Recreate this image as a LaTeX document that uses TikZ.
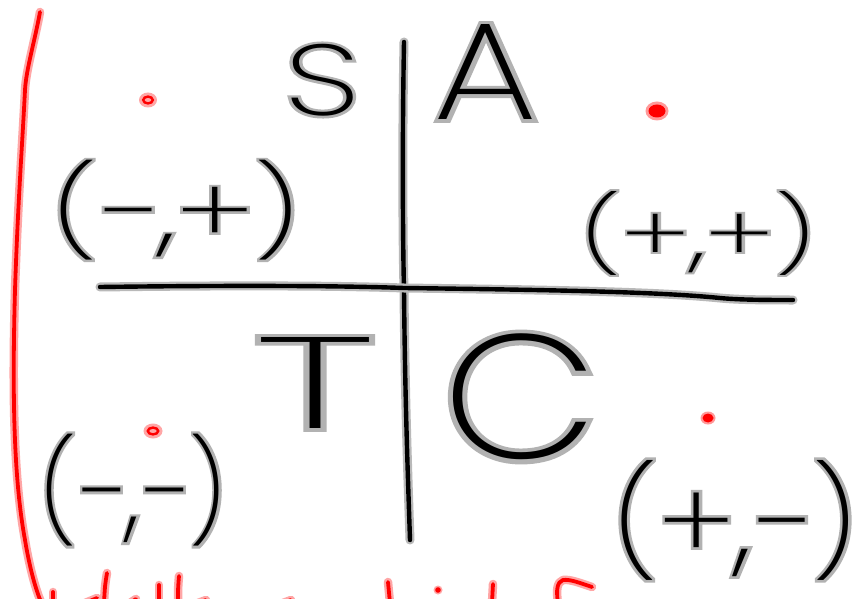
\documentclass[tikz,border=0pt]{standalone}
\usepackage{fontspec}
\usepackage{graphicx}
\IfFontExistsTF{Poppins ExtraLight}{%
  \newfontfamily\handfont{Poppins ExtraLight}%
  \newfontfamily\handhalofont[FakeBold=5]{Poppins ExtraLight}%
}{%
  \IfFontExistsTF{Fira Sans Light}{%
    \newfontfamily\handfont{Fira Sans Light}%
    \newfontfamily\handhalofont[FakeBold=5]{Fira Sans Light}%
  }{%
    \newfontfamily\handfont{Fira Sans}%
    \newfontfamily\handhalofont[FakeBold=5]{Fira Sans}%
  }%
}
\tikzset{
  ink/.style={draw=black, line width=4.4pt, line cap=round, line join=round,
    preaction={draw=gray!55, line width=9pt, line cap=round, line join=round}},
  redink/.style={draw=red, line width=3.8pt, line cap=round, line join=round,
    preaction={draw=red!35, line width=8.5pt, line cap=round, line join=round}},
  halolabel/.style={inner sep=0pt, text=gray!60},
  inklabel/.style={inner sep=0pt, text=black},
}
% #1 name, #2 centre, #3 width, #4 total height, #5 text
\newcommand\handlabel[5]{%
  \node[halolabel] at #2 {\resizebox*{#3}{#4}{\handhalofont\fontsize{100pt}{100pt}\selectfont #5}};
  \node[inklabel] (#1) at #2 {\resizebox*{#3}{#4}{\handfont\fontsize{100pt}{100pt}\selectfont #5}};
}
\begin{document}
\begin{tikzpicture}[x=1pt, y=-1pt]
\clip (0,0) rectangle (863,599);
\fill[white] (0,0) rectangle (863,599);

% red margin line
\coordinate (rtop) at (40,12);
\coordinate (rbot) at (41,602);
\draw[redink] (rtop) .. controls (35,40) and (26,70) .. (25,90)
  .. controls (22,150) and (18,200) .. (15,290)
  .. controls (12,400) and (14,480) .. (25,540)
  .. controls (30,570) and (36,590) .. (rbot);

% axes
\coordinate (vtop) at (404,42);
\coordinate (vmid) at (404,290);
\coordinate (vbot) at (410,540);
\draw[ink] (vtop) .. controls (402,150) and (403,250) .. (vmid)
  .. controls (405,400) and (408,480) .. (vbot);
\coordinate (hleft) at (100,287);
\coordinate (hmid) at (404,288);
\coordinate (hright) at (793,300);
\draw[ink] (hleft) .. controls (250,285) and (350,286) .. (hmid)
  .. controls (560,290) and (660,292) .. (720,298)
  .. controls (740,300) and (770,300) .. (hright);

% quadrant letters
\handlabel{S}{(322,80)}{76pt}{72pt}{S}
\handlabel{A}{(486,72)}{104pt}{95pt}{A}
\handlabel{T}{(315,383)}{120pt}{91pt}{T}
\handlabel{C}{(520,397)}{156pt}{126pt}{C}

% sign pairs
\handlabel{mp}{(176,210)}{250pt}{100pt}{(−,+)}
\handlabel{pp}{(698,233)}{236pt}{84pt}{(+,+)}
\handlabel{mm}{(133,490)}{188pt}{112pt}{(−,−)}
\handlabel{pm}{(735,520)}{246pt}{120pt}{(+,−)}

% red dots
\fill[red!35] (148,100) ellipse (9 and 7.5);
\draw[red, line width=2.4pt] (148,100) ellipse (4.8 and 3.4);
\fill[red!40] (657,111) ellipse (11.5 and 9.5);
\fill[red] (657,111) ellipse (8.5 and 6.5);
\fill[red!35] (153,431) ellipse (9.5 and 7.5);
\draw[red, line width=2.4pt] (153,431) ellipse (5.2 and 3.4);
\fill[red!40] (708,418) ellipse (7.5 and 6.5);
\fill[red] (708,418) ellipse (5.5 and 4.5);

% cut-off red writing at the bottom edge
\draw[redink] (53,592) -- (53,603);
\draw[redink] (107,573) .. controls (105,585) .. (104,603);
\draw[redink] (85,603) -- (97,598);
\draw[redink] (130,603) -- (136,599);
\draw[redink] (159,585) -- (159,603);
\draw[redink] (179,576) .. controls (178,588) .. (178,603);
\draw[redink] (198,603) -- (206,600);
\draw[redink] (283,603) -- (291,600);
\draw[redink] (388,582) -- (390,603);
\fill[red!35] (438,590) circle (4.5);
\fill[red] (438,590) circle (2.8);
\draw[redink] (493,584) -- (492,603);
\draw[redink] (558,603) .. controls (556,590) and (557,582) .. (563,580)
  .. controls (570,579) and (580,583) .. (592,587);
\end{tikzpicture}
\end{document}
